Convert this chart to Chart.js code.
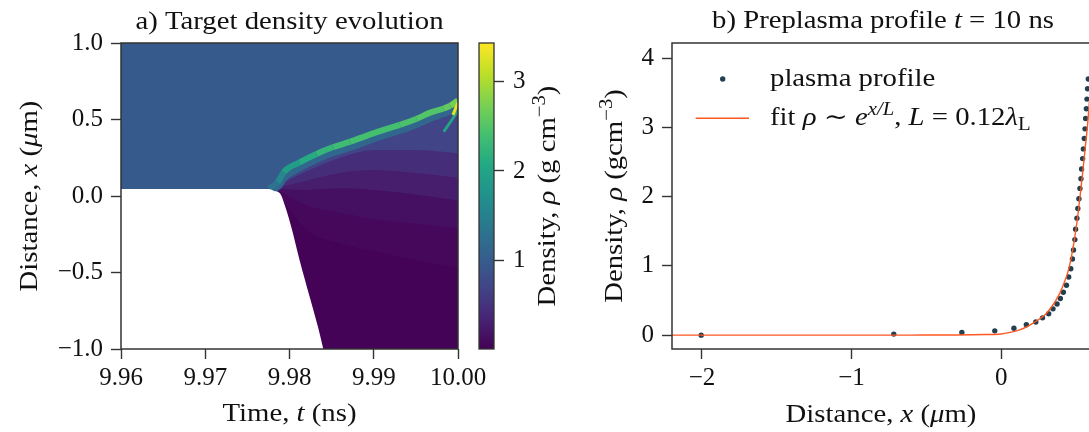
<!DOCTYPE html>
<html>
<head>
<meta charset="utf-8">
<title>Target density evolution and preplasma profile</title>
<script src="https://cdn.jsdelivr.net/npm/chart.js@4.4.1/dist/chart.umd.min.js"></script>
<style>
  body { margin: 0; background: #fff; }
  #figure { position: relative; width: 1089px; height: 432px; overflow: hidden; }
  canvas { position: absolute; top: 0; }
</style>
</head>
<body>
<div id="figure">
  <canvas id="densityMap" width="520" height="432" style="left:0"></canvas>
  <canvas id="colorBar" width="110" height="432" style="left:460px"></canvas>
  <canvas id="profileChart" width="545" height="432" style="left:560px"></canvas>
</div>
<script>
// ---------- panel a: density map ----------
const timeTicks = [9.96, 9.97, 9.98, 9.99, 10.0];
const distTicks = [-1, -0.5, 0, 0.5, 1];
const densityTicks = [1, 2, 3];
const densityRange = [0.01, 3.43]; // colour scale limits
const targetDensity = [0.97];      // untouched target (upper part)

// lower edge of the simulated region, white below it
const edgeT = [9.960, 9.9773, 9.9778, 9.9781, 9.9789, 9.9795, 9.9803, 9.9812, 9.9824, 9.9834, 9.9841];
const edgeX = [0.045, 0.045, 0.042, 0.035, 0.015, -0.07, -0.22, -0.42, -0.66, -0.86, -1.02];

// compressed layer (green band), its glow underneath and its peak density
const frontT = [9.9776, 9.9786, 9.9793, 9.9812, 9.9832, 9.9852, 9.9872, 9.9892, 9.9911, 9.9931, 9.9951, 9.9967, 9.9983, 9.9991, 10.0];
const frontX = [0.05, 0.09, 0.155, 0.22, 0.275, 0.32, 0.355, 0.395, 0.43, 0.465, 0.505, 0.545, 0.572, 0.59, 0.625];
const glowX = [0.04, 0.07, 0.125, 0.19, 0.245, 0.29, 0.325, 0.365, 0.40, 0.435, 0.475, 0.515, 0.545, 0.565, 0.60];
const frontRho = [1.0, 1.3, 1.6, 1.9, 2.1, 2.25, 2.35, 2.4, 2.4, 2.4, 2.45, 2.5, 2.5, 2.6, 2.7];
const glowRho = [1.15];

// iso-density lines in the expanding plasma (same times for all)
const contourT = [9.9786, 9.982, 9.986, 9.990, 9.995, 10.0];
const contourA = [0.07, 0.16, 0.25, 0.30, 0.30, 0.28];
const contourB = [0.055, 0.10, 0.15, 0.17, 0.15, 0.12];
const contourC = [0.045, 0.04, 0.05, 0.04, 0.01, -0.03];
const contourD = [0.04, -0.06, -0.11, -0.15, -0.18, -0.21];
const contourE = [0.02, -0.22, -0.31, -0.36, -0.42, -0.47];
const plasmaRho = [0.70, 0.45, 0.28, 0.16, 0.08, 0.03]; // from the front downwards

// short streaks next to t = 10 ns
const streakT = [9.9983, 9.9993, 10.0];
const streakX = [0.42, 0.50, 0.56];
const hotT = [9.9994, 10.0];
const hotX = [0.53, 0.61];
const streakRho = [2.0, 3.3];

// ---------- panel b: preplasma profile ----------
const profileX = [-2.005, -0.718, -0.263, -0.043, 0.085, 0.168, 0.231, 0.276, 0.317, 0.346, 0.373, 0.395,
  0.415, 0.436, 0.451, 0.465, 0.476, 0.483, 0.492, 0.497, 0.506, 0.512, 0.519, 0.526, 0.533, 0.537,
  0.544, 0.549, 0.555, 0.560, 0.564, 0.569, 0.573, 0.577, 0.582];
const profileRho = [0.0, 0.015, 0.038, 0.062, 0.10, 0.15, 0.19, 0.25, 0.31, 0.38, 0.45, 0.53,
  0.62, 0.72, 0.84, 0.96, 1.10, 1.23, 1.38, 1.53, 1.69, 1.83, 1.97, 2.12, 2.26, 2.40,
  2.55, 2.69, 2.84, 2.98, 3.13, 3.27, 3.41, 3.56, 3.70];
const fitX = [-2.2, -1.5, -1.0, -0.6, -0.3, -0.1, 0.0, 0.06, 0.123, 0.17, 0.21, 0.26, 0.30, 0.337,
  0.367, 0.39, 0.41, 0.444, 0.467, 0.489, 0.511, 0.529, 0.544, 0.562, 0.578, 0.592, 0.605, 0.62];
const fitRho = [0.0, 0.0, 0.0, 0.001, 0.003, 0.009, 0.016, 0.04, 0.077, 0.12, 0.17, 0.24, 0.31, 0.41,
  0.51, 0.60, 0.70, 0.90, 1.11, 1.38, 1.71, 2.05, 2.34, 2.72, 3.06, 3.45, 3.85, 4.3];
const distTicksB = [-2, -1, 0];
const rhoTicksB = [0, 1, 2, 3, 4];

// ---------- helpers ----------
const SERIF = '"Liberation Serif", "DejaVu Serif", serif';
const FS = 25;
const STRETCH = 1.15; // Times is narrower than the TeX font of the original
const INK = '#111';
const SPINE = '#333';
Chart.defaults.font.family = SERIF;
Chart.defaults.font.size = FS;
Chart.defaults.color = INK;

const VIRIDIS = ['#440154', '#482475', '#414487', '#355f8d', '#2a788e', '#21918c',
  '#22a884', '#44bf70', '#7ad151', '#bddf26', '#fde725'];

function hexRgb(h) {
  return [1, 3, 5].map(i => parseInt(h.slice(i, i + 2), 16));
}

function viridis(rho) {
  let f = (rho - densityRange[0]) / (densityRange[1] - densityRange[0]);
  f = Math.min(1, Math.max(0, f)) * (VIRIDIS.length - 1);
  const i = Math.min(Math.floor(f), VIRIDIS.length - 2);
  const a = hexRgb(VIRIDIS[i]), b = hexRgb(VIRIDIS[i + 1]), k = f - i;
  const c = a.map((v, j) => Math.round(v + (b[j] - v) * k));
  return `rgb(${c[0]},${c[1]},${c[2]})`;
}

const pts = (xs, ys) => xs.map((x, i) => ({ x, y: ys[i] }));
const minus = s => String(s).replace('-', '\u2212');
const fixedTicks = list => scale => { scale.ticks = list.map(v => ({ value: v })); };

function fontFor(kind) {
  const small = kind === 'sup' || kind === 'supi' || kind === 'sub';
  const italic = kind === 'i' || kind === 'supi';
  return (italic ? 'italic ' : '') + (small ? Math.round(FS * 0.7) : FS) + 'px ' + SERIF;
}

// text with italic / super / subscript pieces
function richText(ctx, parts, x, y, align, angle) {
  ctx.save();
  ctx.translate(x, y);
  if (angle) ctx.rotate(angle);
  ctx.scale(STRETCH, 1);
  ctx.fillStyle = INK;
  ctx.textAlign = 'left';
  ctx.textBaseline = 'alphabetic';
  const widths = parts.map(([t, k]) => { ctx.font = fontFor(k); return ctx.measureText(t).width; });
  const total = widths.reduce((s, w) => s + w, 0);
  let cx = align === 'center' ? -total / 2 : 0;
  parts.forEach(([t, k], i) => {
    ctx.font = fontFor(k);
    const dy = (k === 'sup' || k === 'supi') ? -FS * 0.42 : k === 'sub' ? FS * 0.2 : 0;
    ctx.fillText(t, cx, dy);
    cx += widths[i];
  });
  ctx.restore();
}

const tickGrid = { display: true, drawOnChartArea: false, drawTicks: true, tickLength: 10, tickWidth: 1.4, tickColor: SPINE };

// dark box round the plot area
const frame = {
  id: 'frame',
  afterDatasetsDraw(chart) {
    const { ctx, chartArea: a } = chart;
    ctx.save();
    ctx.strokeStyle = SPINE;
    ctx.lineWidth = 1.5;
    ctx.strokeRect(a.left, a.top, a.width, a.height);
    ctx.restore();
  }
};

// ---------- chart a ----------
function plasmaArea(xs, ys, rho, colour) {
  return {
    data: pts(xs, ys), fill: 'start', backgroundColor: colour || viridis(rho),
    borderColor: 'rgba(0,0,0,0)', borderWidth: 0, pointRadius: 0,
    cubicInterpolationMode: 'monotone', clip: 0
  };
}

const mapBackground = {
  id: 'mapBackground',
  beforeDatasetsDraw(chart) {
    const { ctx, chartArea: a } = chart;
    ctx.save();
    ctx.fillStyle = viridis(targetDensity[0]);
    ctx.fillRect(a.left, a.top, a.width, a.height);
    ctx.restore();
  }
};

const labelsA = {
  id: 'labelsA',
  afterDraw(chart) {
    const { ctx, chartArea: a } = chart;
    const mid = (a.left + a.right) / 2;
    richText(ctx, [['a) Target density evolution', '']], mid, 28.5, 'center');
    richText(ctx, [['Time, ', ''], ['t', 'i'], [' (ns)', '']], mid, 421, 'center');
    richText(ctx, [['Distance, ', ''], ['x', 'i'], [' (', ''], ['\u03bc', 'i'], ['m)', '']],
      37, (a.top + a.bottom) / 2, 'center', -Math.PI / 2);
  }
};

// datasets listed top-most first (Chart.js paints index 0 last)
new Chart(document.getElementById('densityMap'), {
  type: 'line',
  data: {
    datasets: [
      plasmaArea(edgeT, edgeX, 0, '#ffffff'),
      { data: pts(hotT, hotX), borderColor: viridis(streakRho[1]), borderWidth: 3, pointRadius: 0, fill: false, clip: 0 },
      { data: pts(streakT, streakX), borderColor: viridis(streakRho[0]), borderWidth: 3, pointRadius: 0, fill: false, clip: 0 },
      {
        data: pts(frontT, frontX), fill: false, borderWidth: 6, pointRadius: 0, clip: 0,
        borderColor: viridis(2.3), cubicInterpolationMode: 'monotone', borderCapStyle: 'butt',
        segment: { borderColor: c => viridis(frontRho[c.p1DataIndex]) }
      },
      {
        data: pts(frontT, glowX), fill: false, borderWidth: 9, pointRadius: 0, clip: 0,
        borderColor: viridis(glowRho[0]), cubicInterpolationMode: 'monotone', borderCapStyle: 'butt'
      },
      plasmaArea(contourT, contourE, plasmaRho[5]),
      plasmaArea(contourT, contourD, plasmaRho[4]),
      plasmaArea(contourT, contourC, plasmaRho[3]),
      plasmaArea(contourT, contourB, plasmaRho[2]),
      plasmaArea(contourT, contourA, plasmaRho[1]),
      plasmaArea(frontT, frontX, plasmaRho[0])
    ]
  },
  options: {
    responsive: false,
    animation: false,
    events: [],
    layout: { padding: { left: 0, right: 62, top: 43, bottom: 0 } },
    plugins: { legend: { display: false }, tooltip: { enabled: false } },
    scales: {
      x: {
        type: 'linear', min: 9.96, max: 10.0,
        afterBuildTicks: fixedTicks(timeTicks),
        afterFit: s => { s.height = 83; s.paddingLeft = 0; s.paddingRight = 0; },
        ticks: { callback: v => v.toFixed(2), padding: 4, maxRotation: 0, autoSkip: false },
        grid: tickGrid, border: { display: false }
      },
      y: {
        type: 'linear', min: -1, max: 1,
        afterBuildTicks: fixedTicks(distTicks),
        afterFit: s => { s.width = 121; s.paddingTop = 0; s.paddingBottom = 0; },
        ticks: { callback: v => minus(v.toFixed(1)), padding: 8, autoSkip: false },
        grid: tickGrid, border: { display: false }
      }
    }
  },
  plugins: [mapBackground, frame, labelsA]
});

// ---------- colour bar ----------
const colourStrip = {
  id: 'colourStrip',
  beforeDatasetsDraw(chart) {
    const { ctx, chartArea: a, scales: { y } } = chart;
    const g = ctx.createLinearGradient(0, y.getPixelForValue(densityRange[0]), 0, y.getPixelForValue(densityRange[1]));
    VIRIDIS.forEach((c, i) => g.addColorStop(i / (VIRIDIS.length - 1), c));
    ctx.save();
    ctx.fillStyle = g;
    ctx.fillRect(a.left, a.top, a.width, a.height);
    ctx.strokeStyle = SPINE;
    ctx.lineWidth = 1.3;
    ctx.strokeRect(a.left, a.top, a.width, a.height);
    ctx.restore();
  },
  afterDraw(chart) {
    const a = chart.chartArea;
    richText(chart.ctx, [['Density, ', ''], ['\u03c1', 'i'], [' (g cm', ''], ['\u22123', 'sup'], [')', '']],
      95, (a.top + a.bottom) / 2, 'center', -Math.PI / 2);
  }
};

new Chart(document.getElementById('colorBar'), {
  type: 'scatter',
  data: { datasets: [] },
  options: {
    responsive: false,
    animation: false,
    events: [],
    layout: { padding: { left: 19, right: 0, top: 43, bottom: 83 } },
    plugins: { legend: { display: false }, tooltip: { enabled: false } },
    scales: {
      x: { display: false, min: 0, max: 1 },
      y: {
        type: 'linear', position: 'right', min: densityRange[0], max: densityRange[1],
        afterBuildTicks: fixedTicks(densityTicks),
        afterFit: s => { s.width = 76; s.paddingTop = 0; s.paddingBottom = 0; },
        ticks: { callback: v => String(v), padding: 9, autoSkip: false },
        grid: tickGrid, border: { display: false }
      }
    }
  },
  plugins: [colourStrip]
});

// ---------- chart b ----------
const FIT_COLOUR = '#ff5722';
const DOT_COLOUR = '#22404f';

const labelsB = {
  id: 'labelsB',
  afterDraw(chart) {
    const { ctx, chartArea: a } = chart;
    const mid = (a.left + a.right) / 2;
    richText(ctx, [['b) Preplasma profile ', ''], ['t', 'i'], [' = 10 ns', '']], mid, 28, 'center');
    richText(ctx, [['Distance, ', ''], ['x', 'i'], [' (', ''], ['\u03bc', 'i'], ['m)', '']], 321, 422, 'center');
    richText(ctx, [['Density, ', ''], ['\u03c1', 'i'], [' (gcm', ''], ['\u22123', 'sup'], [')', '']],
      62, (a.top + a.bottom) / 2, 'center', -Math.PI / 2);

    // legend inside the axes
    ctx.save();
    ctx.fillStyle = DOT_COLOUR;
    ctx.beginPath();
    ctx.arc(162.7, 79, 2.7, 0, Math.PI * 2);
    ctx.fill();
    ctx.strokeStyle = FIT_COLOUR;
    ctx.lineWidth = 1.4;
    ctx.beginPath();
    ctx.moveTo(135.7, 118.3);
    ctx.lineTo(189, 118.3);
    ctx.stroke();
    ctx.restore();
    richText(ctx, [['plasma profile', '']], 210, 86, 'left');
    richText(ctx, [['fit ', ''], ['\u03c1', 'i'], [' \u223c ', ''], ['e', 'i'], ['x/L', 'supi'],
      [', ', ''], ['L', 'i'], [' = 0.12', ''], ['\u03bb', 'i'], ['L', 'sub']], 210, 125, 'left');
  }
};

new Chart(document.getElementById('profileChart'), {
  type: 'scatter',
  data: {
    datasets: [
      {
        label: 'fit', type: 'line', data: pts(fitX, fitRho), borderColor: FIT_COLOUR, borderWidth: 1.4,
        pointRadius: 0, fill: false, cubicInterpolationMode: 'monotone', clip: 0
      },
      {
        label: 'plasma profile', data: pts(profileX, profileRho), backgroundColor: DOT_COLOUR,
        borderWidth: 0, pointRadius: 2.7, clip: 0
      }
    ]
  },
  options: {
    responsive: false,
    animation: false,
    events: [],
    layout: { padding: { left: 0, right: 11, top: 43, bottom: 0 } },
    plugins: { legend: { display: false }, tooltip: { enabled: false } },
    scales: {
      x: {
        type: 'linear', min: -2.2, max: 0.62,
        afterBuildTicks: fixedTicks(distTicksB),
        afterFit: s => { s.height = 83; s.paddingLeft = 0; s.paddingRight = 0; },
        ticks: { callback: v => minus(v), padding: 4, maxRotation: 0, autoSkip: false },
        grid: tickGrid, border: { display: false }
      },
      y: {
        type: 'linear', min: -0.2, max: 4.22,
        afterBuildTicks: fixedTicks(rhoTicksB),
        afterFit: s => { s.width = 112; s.paddingTop = 0; s.paddingBottom = 0; },
        ticks: { callback: v => minus(v), padding: 8, autoSkip: false },
        grid: tickGrid, border: { display: false }
      }
    }
  },
  plugins: [frame, labelsB]
});
</script>
</body>
</html>
